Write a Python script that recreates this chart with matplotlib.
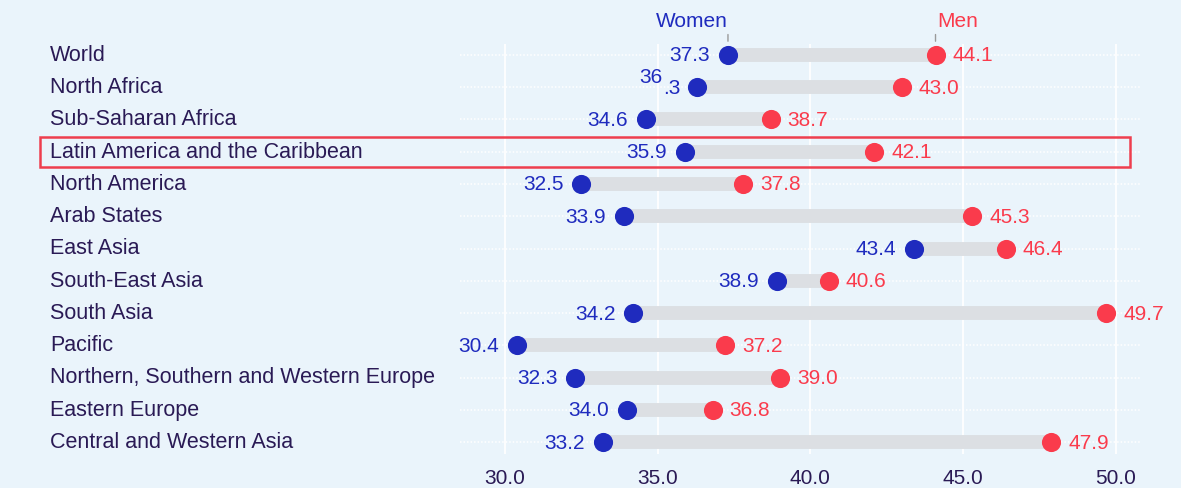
import matplotlib.pyplot as plt
from matplotlib import transforms
from matplotlib.patches import Rectangle

# data
regions = ["World", "North Africa", "Sub-Saharan Africa", "Latin America and the Caribbean",
           "North America", "Arab States", "East Asia", "South-East Asia", "South Asia",
           "Pacific", "Northern, Southern and Western Europe", "Eastern Europe",
           "Central and Western Asia"]
women = [37.3, 36.3, 34.6, 35.9, 32.5, 33.9, 43.4, 38.9, 34.2, 30.4, 32.3, 34.0, 33.2]
men = [44.1, 43.0, 38.7, 42.1, 37.8, 45.3, 46.4, 40.6, 49.7, 37.2, 39.0, 36.8, 47.9]
xticks = [30.0, 35.0, 40.0, 45.0, 50.0]
highlight = "Latin America and the Caribbean"

BG = "#EAF4FB"
BLUE = "#1F2BBE"
RED = "#FA3B4C"
BAR = "#DCDFE3"
DARK = "#2A1A55"
FS = 15

plt.rcParams['font.family'] = ['Liberation Sans', 'DejaVu Sans']

fig = plt.figure(figsize=(11.81, 4.89), dpi=100, facecolor=BG)
ax = fig.add_axes([460 / 1181, (489 - 455) / 489, 680 / 1181, 410 / 489])
ax.set_facecolor(BG)

y = list(range(len(regions)))
ax.set_xlim(28.52, 50.8)
ax.set_ylim(12.37, -0.34)

# grid
for t in xticks:
    ax.axvline(t, color="white", lw=1.3, zorder=0)
for yy in y:
    ax.axhline(yy, color="white", lw=1.1, ls=(0, (1, 1.3)), zorder=0)

ax.hlines(y, women, men, color=BAR, lw=10, zorder=1)
ax.scatter(women, y, s=190, color=BLUE, zorder=3, linewidths=0)
ax.scatter(men, y, s=190, color=RED, zorder=3, linewidths=0)

for yy, w, m in zip(y, women, men):
    if regions[yy] == "North Africa":
        # the reference wraps this label
        ax.annotate(f"{w:.1f}"[:2], (w, yy), xytext=(-35, 11), textcoords="offset pixels",
                    ha="right", va="center", color=BLUE, fontsize=FS)
        ax.annotate(f"{w:.1f}"[2:], (w, yy), xytext=(-17, 0), textcoords="offset pixels",
                    ha="right", va="center", color=BLUE, fontsize=FS)
    else:
        ax.annotate(f"{w:.1f}", (w, yy), xytext=(-18, 0), textcoords="offset pixels",
                    ha="right", va="center", color=BLUE, fontsize=FS)
    ax.annotate(f"{m:.1f}", (m, yy), xytext=(17, 0), textcoords="offset pixels",
                ha="left", va="center", color=RED, fontsize=FS)

# category labels on the left
trans = transforms.blended_transform_factory(fig.transFigure, ax.transData)
for yy, r in enumerate(regions):
    fig.text(50 / 1181, yy - 0.02, r, transform=trans, ha="left", va="center",
             color=DARK, fontsize=15.5)

# highlight box
hi = regions.index(highlight)
fig.add_artist(Rectangle((40 / 1181, hi - 0.465), 1090 / 1181, 0.93, transform=trans,
                         fill=False, edgecolor="#EE3E4E", lw=1.8, zorder=5))

# series labels above the World row
ax.annotate("Women", (women[0], 0), xytext=(0, 34), textcoords="offset pixels",
            ha="right", va="center", color=BLUE, fontsize=FS, annotation_clip=False)
ax.annotate("Men", (men[0], 0), xytext=(2, 34), textcoords="offset pixels",
            ha="left", va="center", color=RED, fontsize=FS, annotation_clip=False)
for v in (women[0], men[0]):
    ax.annotate("", (v, -0.34), xytext=(v, -0.72),
                arrowprops=dict(arrowstyle="-", color="#9A9A9A", lw=1),
                annotation_clip=False)

ax.set_xticks(xticks)
ax.set_xticklabels([f"{t:.1f}" for t in xticks], color=DARK, fontsize=FS)
ax.tick_params(axis="x", length=0, pad=10)
ax.set_yticks([])
for s in ax.spines.values():
    s.set_visible(False)

fig.savefig("out.png", dpi=100, facecolor=BG)
